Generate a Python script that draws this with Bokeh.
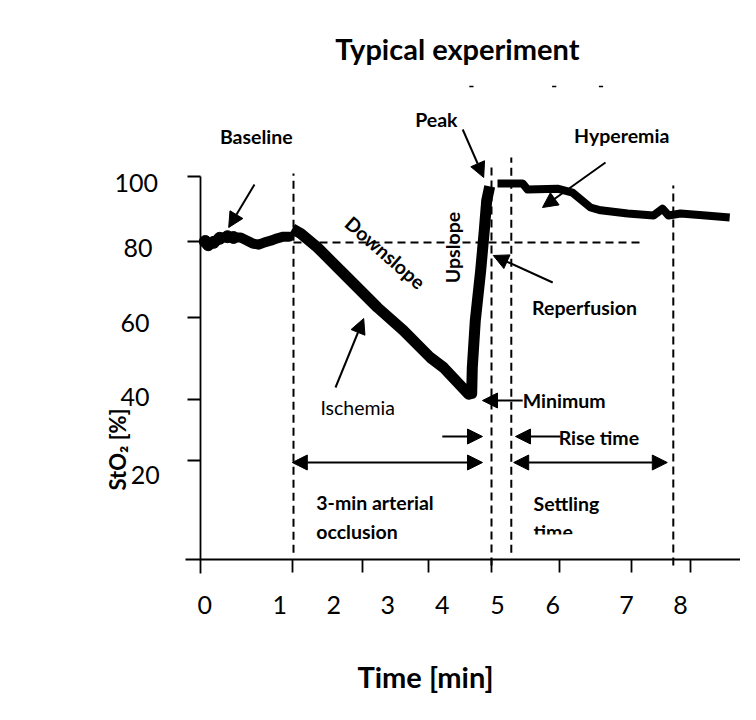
from bokeh.plotting import figure
from bokeh.models import (Range1d, LinearAxis, FixedTicker, Arrow, NormalHead, ColumnDataSource,
                          CustomLabelingPolicy)
from bokeh.core.properties import value
from bokeh.embed import file_html
from bokeh.resources import INLINE
import math

# ---------------- data (time in min, StO2 in %) ----------------
base_t = [0.08, 0.13, 0.22, 0.32, 0.45, 0.55, 0.67, 0.78, 0.87, 0.97, 1.07, 1.17, 1.28, 1.38, 1.48]
base_v = [80.0, 79.2, 79.8, 80.8, 81.2, 81.0, 81.0, 80.2, 79.5, 79.2, 79.8, 80.2, 80.8, 81.2, 81.2]

occl_t = [1.53, 1.67, 1.95, 2.45, 2.95, 3.38, 3.83, 4.05, 4.47, 4.52, 4.53, 4.58, 4.67, 4.73, 4.77, 4.82]
occl_v = [83.2, 82.0, 78.5, 71.0, 63.5, 57.8, 51.0, 48.5, 41.8, 42.0, 48.5, 60.2, 72.8, 82.8, 90.2, 93.8]

rep_t = [4.95, 5.37, 5.45, 5.95, 6.20, 6.50, 6.67, 7.12, 7.55, 7.70, 7.80, 8.00, 8.42, 8.82]
rep_v = [94.5, 94.5, 93.0, 93.2, 92.2, 88.5, 87.8, 87.0, 86.5, 88.2, 86.5, 87.0, 86.5, 86.0]

# event lines (vertical dashed) and reference level
event_t = [1.55, 4.85, 5.18, 7.88]
event_top = [97.0, 99.5, 101.0, 94.0]
event_bot = [2.2, -1.0, 2.2, -1.0]
ref_level = 79.75
ref_t = [1.55, 7.37]

# axes
x_tick_pos = [1.53, 2.70, 3.80, 4.85, 5.98, 7.18, 8.17]
x_tick_label_pos = [0.07, 1.32, 2.22, 3.12, 4.03, 4.95, 5.87, 7.10, 8.00]
x_tick_labels = ["0", "1", "2", "3", "4", "5", "6", "7", "8"]
y_tick_pos = [96.25, 80.0, 61.0, 40.5, 25.25]
y_tick_label_pos = [94.75, 78.5, 59.75, 41.25, 21.75]
y_tick_label_x = [-1.07, -1.04, -1.09, -1.09, -0.92]
y_tick_labels = ["100", "80", "60", "40", "20"]

# annotations
bold_labels = ["Baseline", "Peak", "Hyperemia", "Reperfusion"]
bold_x = [0.93, 3.93, 7.02, 6.40]
bold_y = [106.25, 110.5, 106.5, 63.5]

left_labels = ["Minimum", "Rise time", "3-min arterial", "occlusion", "Settling", "time"]
left_x = [5.37, 5.97, 1.93, 1.93, 5.55, 5.55]
left_y = [40.25, 31.0, 14.75, 7.5, 14.5, 7.5]

arrow_x0 = [0.90, 4.37, 6.75, 5.87, 2.25, 5.37, 4.03, 6.00]
arrow_y0 = [94.25, 108.0, 99.75, 69.75, 43.5, 40.25, 31.25, 31.25]
arrow_x1 = [0.47, 4.72, 5.70, 4.88, 2.72, 4.70, 4.70, 5.25]
arrow_y1 = [83.5, 96.0, 88.5, 76.5, 60.75, 40.25, 31.25, 31.25]

span_x0 = [1.53, 5.22]
span_x1 = [4.70, 7.78]
span_y = [24.75, 24.75]

FONT = value("Lato")

p = figure(width=740, height=704, output_backend="svg", toolbar_location=None,
           x_range=Range1d(-3.3333, 9.0), y_range=Range1d(-35.75, 140.25),
           x_axis_type=None, y_axis_type=None, min_border=0,
           outline_line_color=None, background_fill_color="white")
p.xgrid.visible = False
p.ygrid.visible = False

# axes
yax = LinearAxis(fixed_location=0, bounds=(-3, 96.25), ticker=FixedTicker(ticks=y_tick_pos),
                 major_tick_out=13, major_tick_in=0, minor_tick_out=0, minor_tick_in=0,
                 major_label_policy=CustomLabelingPolicy(code="for (const i of indices) { indices.unset(i) }\nreturn indices"),
                 axis_line_width=1.8, major_tick_line_width=1.8, major_label_standoff=0)
p.add_layout(yax, "left")
xax = LinearAxis(fixed_location=0.5, bounds=(-0.25, 9.2), ticker=FixedTicker(ticks=x_tick_pos),
                 major_tick_out=13, major_tick_in=0, minor_tick_out=0, minor_tick_in=0,
                 major_label_policy=CustomLabelingPolicy(code="for (const i of indices) { indices.unset(i) }\nreturn indices"),
                 axis_line_width=1.8, major_tick_line_width=1.8, major_label_standoff=0)
p.add_layout(xax, "below")

# tick labels
p.text(x=x_tick_label_pos, y=[-10.75] * len(x_tick_labels), text=x_tick_labels,
       text_font=FONT, text_font_size=value("25px"), text_align="center",
       text_baseline="middle", text_color="black")
p.text(x=y_tick_label_x, y=y_tick_label_pos, text=y_tick_labels,
       text_font=FONT, text_font_size=value("25px"), text_align="center",
       text_baseline="middle", text_color="black")

# dashed guides
p.segment(x0=event_t, y0=event_bot, x1=event_t, y1=event_top,
          line_color="black", line_width=2, line_dash="8 5")
p.segment(x0=[ref_t[0]], y0=[ref_level], x1=[ref_t[1]], y1=[ref_level],
          line_color="black", line_width=2, line_dash="8 5")

# stray marks at top
p.segment(x0=[4.48, 5.86, 6.64], y0=[118.75] * 3, x1=[4.55, 5.93, 6.71], y1=[118.75] * 3,
          line_color="black", line_width=1.5)

# curve
p.line(base_t, base_v, line_color="black", line_width=10, line_join="round", line_cap="round")
p.scatter(base_t[:6], base_v[:6], size=12, color="black")
p.line(occl_t, occl_v, line_color="black", line_width=11, line_join="round", line_cap="butt")
p.line(rep_t, rep_v, line_color="black", line_width=8, line_join="round", line_cap="butt")

# arrows
src = ColumnDataSource(dict(x0=arrow_x0, y0=arrow_y0, x1=arrow_x1, y1=arrow_y1))
p.add_layout(Arrow(end=NormalHead(size=15, fill_color="black", line_color="black"),
                   x_start="x0", y_start="y0", x_end="x1", y_end="y1", source=src,
                   line_width=2, line_color="black"))
for a, b, c in zip(span_x0, span_x1, span_y):
    p.add_layout(Arrow(start=NormalHead(size=15, fill_color="black", line_color="black"),
                       end=NormalHead(size=15, fill_color="black", line_color="black"),
                       x_start=a, y_start=c, x_end=b, y_end=c, line_width=2, line_color="black"))

# annotation texts
p.text(x=bold_x, y=bold_y, text=bold_labels, text_font=FONT, text_font_style="bold",
       text_font_size=value("19.5px"), text_align="center", text_baseline="middle", text_color="black")
p.text(x=left_x, y=left_y, text=left_labels, text_font=FONT, text_font_style="bold",
       text_font_size=value("19.5px"), text_align="left", text_baseline="middle", text_color="black")
p.text(x=[2.62], y=[38.5], text=["Ischemia"], text_font=FONT,
       text_font_size=value("19.5px"), text_align="center", text_baseline="middle", text_color="black")
p.text(x=[3.08], y=[77.25], text=["Downslope"], angle=-0.716, text_font=FONT, text_font_style="bold",
       text_font_size=value("19.5px"), text_align="center", text_baseline="middle", text_color="black")
p.text(x=[4.20], y=[78.5], text=["Upslope"], angle=math.pi / 2, text_font=FONT, text_font_style="bold",
       text_font_size=value("19.5px"), text_align="center", text_baseline="middle", text_color="black")

# clipped lower half of "time"
p.quad(left=[5.47], right=[6.33], bottom=[4.0], top=[6.75], fill_color="white", line_color=None)

# titles
p.text(x=[4.28], y=[128.25], text=["Typical experiment"], text_font=FONT, text_font_style="bold",
       text_font_size=value("29px"), text_align="center", text_baseline="middle", text_color="black")
p.text(x=[3.75], y=[-28.75], text=["Time [min]"], text_font=FONT, text_font_style="bold",
       text_font_size=value("29px"), text_align="center", text_baseline="middle", text_color="black")
p.text(x=[-1.39], y=[28.0], text=["StO\u2082 [%]"], angle=math.pi / 2, text_font=FONT,
       text_font_style="bold", text_font_size=value("22px"), text_align="center",
       text_baseline="middle", text_color="black")

open("out.html", "w").write(file_html(p, INLINE))
